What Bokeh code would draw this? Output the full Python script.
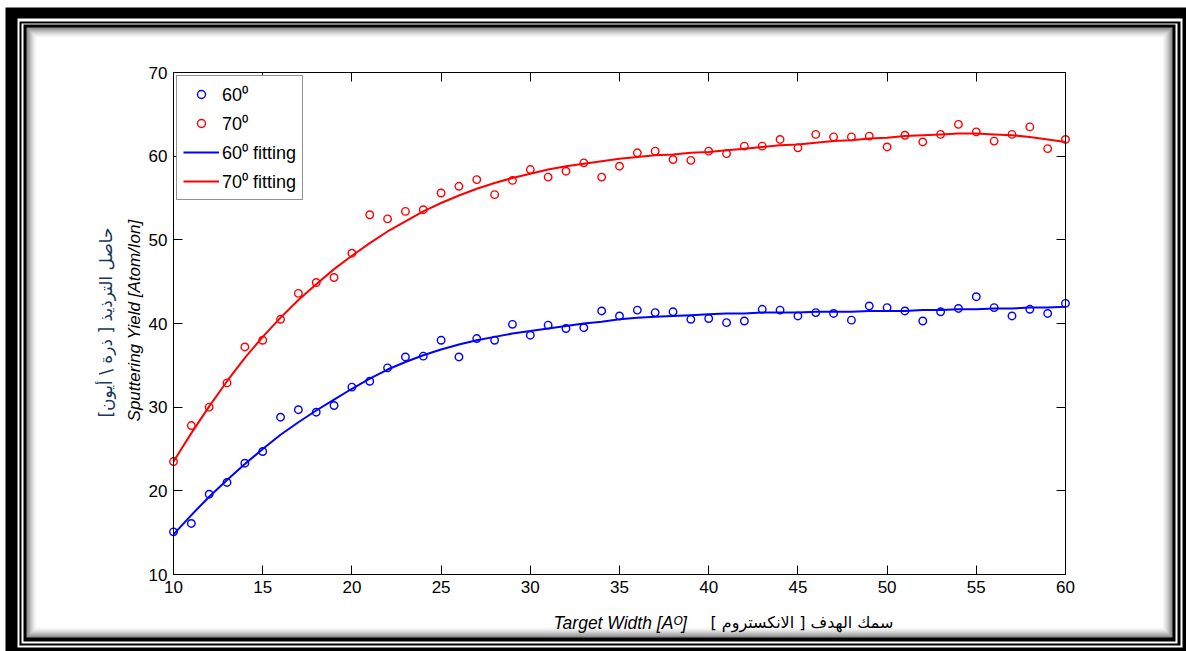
import math
from bokeh.plotting import figure
from bokeh.models import (ColumnDataSource, Range1d, LinearAxis, FixedTicker,
                          Legend, LegendItem, Label, BoxAnnotation)
from bokeh.embed import file_html
from bokeh.resources import INLINE

# ---------------- data ----------------
target_width = list(range(10, 61))
yield_60 = [15.1, 16.1, 19.6, 21.0, 23.3, 24.7, 28.8, 29.7, 29.4, 30.2,
            32.4, 33.1, 34.7, 36.0, 36.1, 38.0, 36.0, 38.2, 38.0, 39.9,
            38.6, 39.8, 39.4, 39.5, 41.5, 40.9, 41.6, 41.3, 41.4, 40.5,
            40.6, 40.1, 40.3, 41.7, 41.6, 40.9, 41.3, 41.2, 40.4, 42.1,
            41.9, 41.5, 40.3, 41.4, 41.8, 43.2, 41.9, 40.9, 41.7, 41.2,
            42.4]
yield_70 = [23.5, 27.8, 30.0, 32.9, 37.2, 38.0, 40.5, 43.6, 44.9, 45.5,
            48.4, 53.0, 52.5, 53.4, 53.6, 55.6, 56.4, 57.2, 55.4, 57.1,
            58.4, 57.5, 58.2, 59.2, 57.5, 58.8, 60.4, 60.6, 59.6, 59.5,
            60.6, 60.3, 61.2, 61.2, 62.0, 61.0, 62.6, 62.3, 62.3, 62.4,
            61.1, 62.5, 61.7, 62.6, 63.8, 62.9, 61.8, 62.6, 63.5, 60.9,
            62.0]
fit_60 = [14.8, 17.1, 19.3, 21.3, 23.2, 25.0, 26.7, 28.2, 29.6, 30.9,
          32.2, 33.4, 34.5, 35.4, 36.2, 36.9, 37.5, 38.0, 38.4, 38.8,
          39.1, 39.4, 39.7, 40.0, 40.2, 40.5, 40.7, 40.8, 40.9, 41.0,
          41.1, 41.2, 41.2, 41.3, 41.3, 41.3, 41.4, 41.4, 41.4, 41.5,
          41.5, 41.5, 41.6, 41.6, 41.7, 41.7, 41.8, 41.8, 41.9, 41.9,
          42.0]
fit_70 = [23.5, 26.9, 30.1, 33.1, 35.9, 38.4, 40.7, 42.8, 44.7, 46.5,
          48.1, 49.6, 51.0, 52.2, 53.4, 54.4, 55.3, 56.1, 56.8, 57.4,
          57.9, 58.4, 58.8, 59.1, 59.4, 59.7, 59.9, 60.1, 60.2, 60.4,
          60.5, 60.7, 60.9, 61.1, 61.3, 61.4, 61.6, 61.8, 61.9, 62.1,
          62.2, 62.4, 62.5, 62.6, 62.7, 62.7, 62.6, 62.5, 62.3, 62.0,
          61.7]
x_ticks = [10, 15, 20, 25, 30, 35, 40, 45, 50, 55, 60]
y_ticks = [10, 20, 30, 40, 50, 60, 70]
x_lim = (10, 60)
y_lim = (10, 70)
legend_labels = ["60\u2070", "70\u2070", "60\u2070 fitting", "70\u2070 fitting"]
x_label_en = "Target Width [A\u1d3c]"
x_label_ar = "سمك الهدف [ الانكستروم ]"
y_label_ar = "حاصل الترذيذ [ ذرة \\ أيون]"
y_label_en = "Sputtering Yield [Atom/Ion]"

src = ColumnDataSource(dict(x=target_width, y60=yield_60, y70=yield_70,
                            f60=fit_60, f70=fit_70))

# ---------------- layout (pixels) ----------------
W, H = 1186, 651
box_l, box_r, box_t, box_b = 173, 1065, 72, 574   # axes box on the canvas
sx = (box_r - box_l) / (x_lim[1] - x_lim[0])
sy = (box_b - box_t) / (y_lim[1] - y_lim[0])
xr = Range1d(x_lim[0] - box_l / sx, x_lim[1] + (W - box_r) / sx)
yr = Range1d(y_lim[0] - (H - box_b) / sy, y_lim[1] + box_t / sy)

p = figure(width=W, height=H, x_range=xr, y_range=yr,
           output_backend="svg", toolbar_location=None,
           x_axis_location=None, y_axis_location=None,
           min_border=0, min_border_left=0, min_border_right=0,
           min_border_top=0, min_border_bottom=0)
p.title.visible = False
p.grid.visible = False
p.outline_line_color = None
p.background_fill_color = "white"
p.border_fill_color = "white"

# ---- decorative frame ----
frame_boxes = [
    (5, 7, 1186, 651, "black"),
    (17, 18, 1182, 647, "white"),
    (19, 21, 1180, 645, "black"),
    (21, 23, 1177, 643, "white"),
    (23, 24, 1175, 641, "black"),
]
shadow = ["#8a8a8a", "#9a9a9a", "#a9a9a9", "#b8b8b8", "#c6c6c6", "#d3d3d3",
          "#dfdfdf", "#e9e9e9", "#f2f2f2", "#f9f9f9"]
for i, c in enumerate(shadow):
    frame_boxes.append((26 + i, 27 + i, 1172 - i, 637 - i, c))
frame_boxes.append((36, 37, 1162, 627, "white"))
for (l, t, r, b, c) in frame_boxes:
    p.add_layout(BoxAnnotation(left=l, right=r, top=t, bottom=b,
                               left_units="canvas", right_units="canvas",
                               top_units="canvas", bottom_units="canvas",
                               fill_color=c, fill_alpha=1.0, line_color=None,
                               level="underlay"))

# ---- glyphs ----
r60 = p.scatter("x", "y60", source=src, marker="circle", size=7.5,
                fill_color=None, line_color="#0000ff", line_width=1.4)
r70 = p.scatter("x", "y70", source=src, marker="circle", size=7.5,
                fill_color=None, line_color="#ff0000", line_width=1.4)
l60 = p.line("x", "f60", source=src, line_color="#0000ff", line_width=2)
l70 = p.line("x", "f70", source=src, line_color="#ff0000", line_width=2)

# ---- axes (box with inward ticks on all sides) ----
bottom_ax = LinearAxis(ticker=FixedTicker(ticks=x_ticks), fixed_location=y_lim[0],
                       bounds=x_lim)
left_ax = LinearAxis(ticker=FixedTicker(ticks=y_ticks), fixed_location=x_lim[0],
                     bounds=y_lim)
top_ax = LinearAxis(ticker=FixedTicker(ticks=x_ticks), fixed_location=y_lim[1],
                    bounds=x_lim, major_label_overrides={t: "" for t in x_ticks})
right_ax = LinearAxis(ticker=FixedTicker(ticks=y_ticks), fixed_location=x_lim[1],
                      bounds=y_lim, major_label_overrides={t: "" for t in y_ticks})
p.add_layout(bottom_ax, "below")
p.add_layout(left_ax, "left")
p.add_layout(top_ax, "above")
p.add_layout(right_ax, "right")
for ax in [bottom_ax, left_ax, top_ax, right_ax]:
    ax.axis_line_color = "black"
    ax.axis_line_width = 1
    ax.major_tick_line_color = "black"
    ax.major_tick_in = 9
    ax.major_tick_out = 0
    ax.minor_tick_line_color = None
    ax.major_label_text_font = "Liberation Sans"
    ax.major_label_text_font_size = "17px"
    ax.major_label_text_color = "black"
    ax.major_label_standoff = 6

# ---- legend ----
legend = Legend(items=[LegendItem(label=legend_labels[0], renderers=[r60]),
                       LegendItem(label=legend_labels[1], renderers=[r70]),
                       LegendItem(label=legend_labels[2], renderers=[l60]),
                       LegendItem(label=legend_labels[3], renderers=[l70])],
                location=(176, H - 76 - 124))
legend.margin = 0
legend.padding = 6
legend.spacing = 5
legend.glyph_width = 36
legend.glyph_height = 20
legend.label_height = 20
legend.label_standoff = 3
legend.border_line_color = "#262626"
legend.border_line_width = 1
legend.label_text_font = "Liberation Sans"
legend.label_text_font_size = "18px"
legend.label_text_color = "black"
legend.background_fill_color = "white"
legend.background_fill_alpha = 1.0
p.add_layout(legend)

# ---- axis titles ----
p.add_layout(Label(x=105, y=322, x_units="canvas", y_units="canvas",
                   text=y_label_ar, angle=math.pi / 2, text_align="center",
                   text_baseline="middle", text_font="DejaVu Sans",
                   text_font_size="17px", text_color="#17365d"))
p.add_layout(Label(x=134, y=320, x_units="canvas", y_units="canvas",
                   text=y_label_en, angle=math.pi / 2, text_align="center",
                   text_baseline="middle", text_font="Liberation Sans",
                   text_font_style="italic", text_font_size="17px",
                   text_color="black"))
p.add_layout(Label(x=553, y=622, x_units="canvas", y_units="canvas",
                   text=x_label_en, text_align="left",
                   text_baseline="alphabetic", text_font="Liberation Sans",
                   text_font_style="italic", text_font_size="17.5px",
                   text_color="black"))
p.add_layout(Label(x=893, y=622, x_units="canvas", y_units="canvas",
                   text=x_label_ar, text_align="right",
                   text_baseline="alphabetic", text_font="DejaVu Sans",
                   text_font_size="16px", text_color="black"))

open("out.html", "w").write(file_html(p, INLINE))
